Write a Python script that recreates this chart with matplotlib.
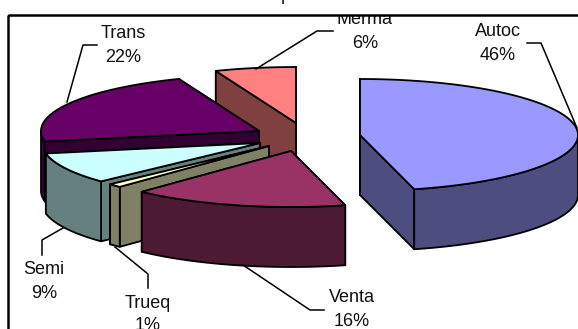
import numpy as np
import matplotlib
matplotlib.use("Agg")
import matplotlib.pyplot as plt
from matplotlib.patches import Polygon, Rectangle

plt.rcParams["font.family"] = ["Liberation Sans", "DejaVu Sans"]

# Data
labels = ["Autoc", "Venta", "Trueq", "Semi", "Trans", "Merma"]
shares = [46, 16, 1, 9, 22, 6]
top_colors = ["#9999FF", "#993366", "#FFFFCC", "#CCFFFF", "#660066", "#FF8080"]
side_colors = ["#4D4D80", "#4D1A33", "#808066", "#668080", "#330033", "#804040"]

# Layout, in image pixels
RX, RY, DEPTH = 218, 56, 60
apexes = {
    "Autoc": (360, 135),
    "Venta": (291, 151),
    "Trueq": (269, 146),
    "Semi": (260, 143),
    "Trans": (259, 131),
    "Merma": (296, 123),
}
label_pos = {
    "Autoc": (498, 31, 55),
    "Venta": (352, 297, 322),
    "Trueq": (148, 303, 326),
    "Semi": (44, 270, 293),
    "Trans": (123, 33, 57),
    "Merma": (365, 20, 43),
}
leaders = {
    "Autoc": [(527, 43), (541, 43), (577, 128)],
    "Venta": [(243, 265), (310, 310), (324, 310)],
    "Trueq": [(115, 247), (148, 274), (148, 288)],
    "Semi": [(63, 228), (42, 240), (42, 255)],
    "Trans": [(67, 102), (83, 45), (97, 45)],
    "Merma": [(256, 69), (317, 31), (333, 31)],
}
draw_order = ["Merma", "Trans", "Semi", "Trueq", "Venta", "Autoc"]

fig = plt.figure(figsize=(5.78, 3.29), dpi=100)
ax = fig.add_axes([0, 0, 1, 1])
ax.set_xlim(0, 578)
ax.set_ylim(329, 0)
ax.axis("off")


def rim(apex, a0, a1):
    t = np.radians(np.linspace(a0, a1, max(int(a1 - a0) * 2, 2)))
    return np.column_stack([apex[0] + RX * np.sin(t), apex[1] - RY * np.cos(t)])


def face(points, color, z):
    ax.add_patch(Polygon(points, closed=True, facecolor=color, edgecolor="black",
                         linewidth=1.3, joinstyle="round", zorder=z))


def drop(points):
    return np.asarray(points) + [0, DEPTH]


# Angles are clockwise from twelve o'clock
ends = np.cumsum(shares) * 3.6
starts = ends - np.array(shares) * 3.6
index = {name: i for i, name in enumerate(labels)}

z = 2
for name in draw_order:
    i = index[name]
    apex = np.array(apexes[name], dtype=float)
    a0, a1 = starts[i], ends[i]
    edge = rim(apex, a0, a1)

    # Cut faces back to front, then the outer wall, then the top
    for end_pt in sorted((edge[0], edge[-1]), key=lambda p: p[1]):
        quad = np.array([apex, end_pt])
        face(np.vstack([quad, drop(quad)[::-1]]), side_colors[i], z)
        z += 1

    v0, v1 = max(a0, 90), min(a1, 270)
    if v1 > v0:
        wall = rim(apex, v0, v1)
        face(np.vstack([wall, drop(wall)[::-1]]), side_colors[i], z)
        z += 1

    face(np.vstack([[apex], edge]), top_colors[i], z)
    z += 1

# Frame, the image cuts it off on the right and at the bottom
clip = Rectangle((8, 15), 578, 329, transform=ax.transData)
ax.add_patch(Rectangle((8, 14.5), 580, 330, facecolor="none", edgecolor="black",
                       linewidth=1.8, zorder=z + 2, clip_on=False))

for i, name in enumerate(labels):
    xs, ys = zip(*leaders[name])
    ax.plot(xs, ys, color="black", linewidth=1.1, zorder=z + 1)
    x, y1, y2 = label_pos[name]
    for text, y in ((name, y1), (f"{shares[i]}%", y2)):
        t = ax.text(x, y, text, fontsize=13, color="#111111", ha="center",
                    va="center", zorder=z + 1)
        t.set_clip_path(clip)
        t.set_clip_on(True)

# Only the tail of the title's p falls inside the image
ax.text(281, 0, "p", fontsize=13, ha="left", va="baseline", color="#111111", zorder=z)

fig.savefig("out.png", dpi=100)
